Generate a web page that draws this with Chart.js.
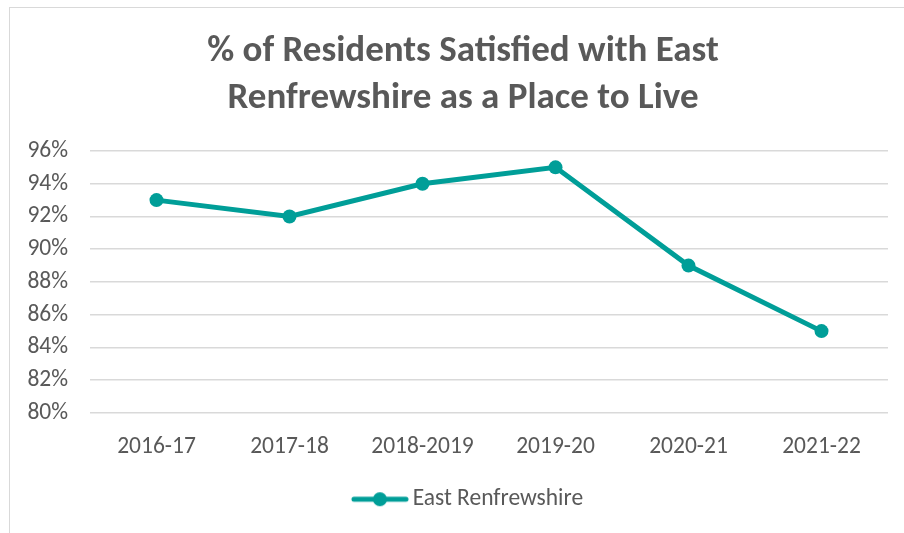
<!DOCTYPE html>
<html lang="en">
<head>
<meta charset="UTF-8">
<title>Residents Satisfied</title>
<style>
  html, body { margin: 0; padding: 0; background: #fff; }
  #frame { position: absolute; left: 9px; top: 7px; width: 920px; height: 560px; border: 1px solid #d9d9d9; }
  #wrap { position: absolute; left: 0; top: 0; width: 904px; height: 533px; }
</style>
</head>
<body>
<div id="frame"></div>
<div id="wrap"><canvas id="myChart" width="904" height="533"></canvas></div>

<script src="https://cdn.jsdelivr.net/npm/chart.js"></script>
<script>
  const years = ['2016-17', '2017-18', '2018-2019', '2019-20', '2020-21', '2021-22'];
  const satisfied = [93, 92, 94, 95, 89, 85];
  const yTicks = [80, 82, 84, 86, 88, 90, 92, 94, 96];

  const teal = '#009E98';
  const grey = '#595959';
  const font = "Calibri, Carlito, Lato, sans-serif";

  // legend marker: line with a dot, drawn on the right of a wider canvas
  // so it sits close to the label text
  function legendMarker() {
    const c = document.createElement('canvas');
    c.width = 74; c.height = 16;
    const g = c.getContext('2d');
    g.strokeStyle = teal;
    g.lineWidth = 5;
    g.lineCap = 'round';
    g.beginPath();
    g.moveTo(19, 8); g.lineTo(71, 8);
    g.stroke();
    g.fillStyle = teal;
    g.beginPath();
    g.arc(45, 8, 7, 0, Math.PI * 2);
    g.fill();
    return c;
  }
  const marker = legendMarker();

  // title and legend in the original sit a bit right of the canvas centre
  const shiftBlocks = {
    id: 'shiftBlocks',
    afterLayout(chart) {
      chart.titleBlock.left = 38;
      chart.legend.left = 38;
    }
  };

  new Chart(document.getElementById('myChart'), {
    type: 'line',
    data: {
      labels: years,
      datasets: [{
        label: 'East Renfrewshire',
        data: satisfied,
        borderColor: teal,
        backgroundColor: teal,
        borderWidth: 5,
        pointRadius: 7,
        pointHoverRadius: 7,
        pointBorderWidth: 0,
        tension: 0
      }]
    },
    options: {
      responsive: false,
      animation: false,
      layout: { padding: { left: 0, right: 16, top: 0, bottom: 12 } },
      scales: {
        x: {
          offset: true,
          grid: { display: false },
          border: { display: false },
          ticks: { color: grey, font: { family: font, size: 23.5 }, padding: 12 },
          afterFit: s => { s.height = 64.5; }
        },
        y: {
          min: 80,
          max: 96,
          afterBuildTicks: s => { s.ticks = yTicks.map(v => ({ value: v })); },
          grid: { color: '#d9d9d9', lineWidth: 1.5, drawTicks: false },
          border: { display: false },
          ticks: { color: grey, font: { family: font, size: 23.5 }, padding: 22,
                   callback: v => v + '%' },
          afterFit: s => { s.width = 90; }
        }
      },
      plugins: {
        title: {
          display: true,
          text: ['% of Residents Satisfied with East', 'Renfrewshire as a Place to Live'],
          color: grey,
          font: { family: font, size: 37, weight: 'bold', lineHeight: 1.27 },
          padding: { top: 28.5, bottom: 28.5 }
        },
        legend: {
          position: 'bottom',
          labels: {
            color: grey,
            font: { family: font, size: 23.5 },
            usePointStyle: true,
            pointStyle: marker,
            pointStyleWidth: 58,
            padding: 10,
            generateLabels: chart => chart.data.datasets.map((d, i) => ({
              text: d.label,
              fontColor: grey,
              pointStyle: marker,
              datasetIndex: i,
              lineWidth: 0,
              strokeStyle: 'transparent',
              fillStyle: 'transparent'
            }))
          }
        },
        tooltip: { enabled: false }
      }
    },
    plugins: [shiftBlocks]
  });
</script>
</body>
</html>
